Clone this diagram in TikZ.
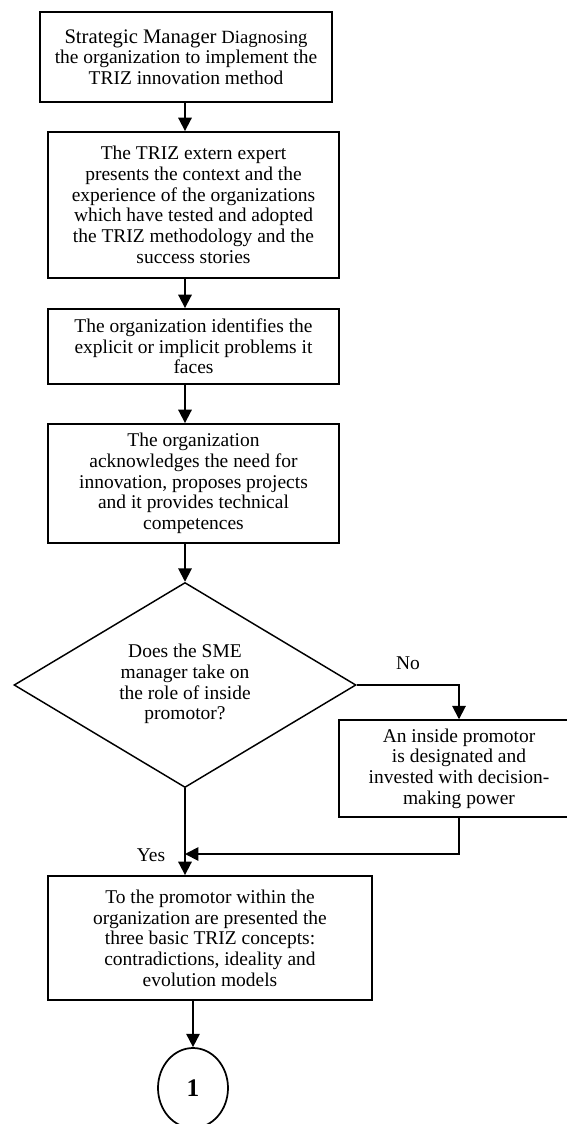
\documentclass[tikz,border=0pt]{standalone}
\usepackage{fontspec}
\setmainfont{Liberation Serif}
\usetikzlibrary{shapes.geometric,arrows.meta}

\tikzset{
  every node/.style={font=\fontsize{14.6}{15.5}\selectfont},
  stepbox/.style={draw, line width=1.4pt, rectangle, align=center, inner sep=0pt},
  thinbox/.style={draw, line width=1.1pt, rectangle, align=center, inner sep=0pt},
  decision/.style={draw, line width=1.1pt, diamond, inner sep=0pt},
  arr/.style={line width=1.4pt, -{Triangle[width=10pt,length=10pt]}},
  lbl/.style={inner sep=0pt}
}

\begin{document}
\begin{tikzpicture}[x=0.75pt,y=-0.75pt]
\useasboundingbox (0,0) rectangle (567,1124);

% process steps
\node[stepbox, minimum width=292*0.75pt, minimum height=90*0.75pt] (b1) at (186,57)
  {{\fontsize{15.5}{15}\selectfont Strategic Manager} {\fontsize{14}{15}\selectfont Diagnosing}\\the organization to implement the\\TRIZ innovation method};
\node[stepbox, minimum width=291*0.75pt, minimum height=146*0.75pt] (b2) at (193.5,205)
  {The TRIZ extern expert\\presents the context and the\\experience of the organizations\\which have tested and adopted\\the TRIZ methodology and the\\success stories};
\node[stepbox, minimum width=291*0.75pt, minimum height=75*0.75pt] (b3) at (193.5,346.5)
  {The organization identifies the\\explicit or implicit problems it\\faces};
\node[stepbox, minimum width=291*0.75pt, minimum height=119*0.75pt] (b4) at (193.5,483.5)
  {The organization\\acknowledges the need for\\innovation, proposes projects\\and it provides technical\\competences};

% decision
\node[decision, minimum width=342*0.75pt, minimum height=205*0.75pt] (d) at (185,685) {};
\node[align=center] (dq) at (185,684) {Does the SME\\manager take on\\the role of inside\\promotor?};

% alternative branch
\node[thinbox, minimum width=240*0.75pt, minimum height=97*0.75pt] (rb) at (459,768.5)
  {An inside promotor\\is designated and\\invested with decision-\\making power};

% presentation step
\node[stepbox, minimum width=324*0.75pt, minimum height=124*0.75pt] (b5) at (210,938)
  {To the promotor within the\\organization are presented the\\three basic TRIZ concepts:\\contradictions, ideality and\\evolution models};

% off-page connector
\node[draw, line width=1.3pt, ellipse, minimum width=70*0.75pt, minimum height=80*0.75pt, inner sep=0pt, font=\fontsize{19}{20}\selectfont\bfseries] (c1) at (193,1088)
  {1};

\coordinate (j) at (185,854);

% connectors
\draw[arr] (b1.south -| 185,0) -- (b2.north -| 185,0);
\draw[arr] (b2.south -| 185,0) -- (b3.north -| 185,0);
\draw[arr] (b3.south -| 185,0) -- (b4.north -| 185,0);
\draw[arr] (b4.south -| d.north) -- (d.north);
\draw[arr] (d.south) -- (d.south |- b5.north);
\draw[arr] (d.east) -| (rb.north);
\draw[arr] (rb.south) |- (j);
\draw[arr] (b5.south -| c1.north) -- (c1.north);

% branch labels
\node[lbl] (no) at (408,663) {No};
\node[lbl] (yes) at (151,855) {Yes};
\end{tikzpicture}
\end{document}
